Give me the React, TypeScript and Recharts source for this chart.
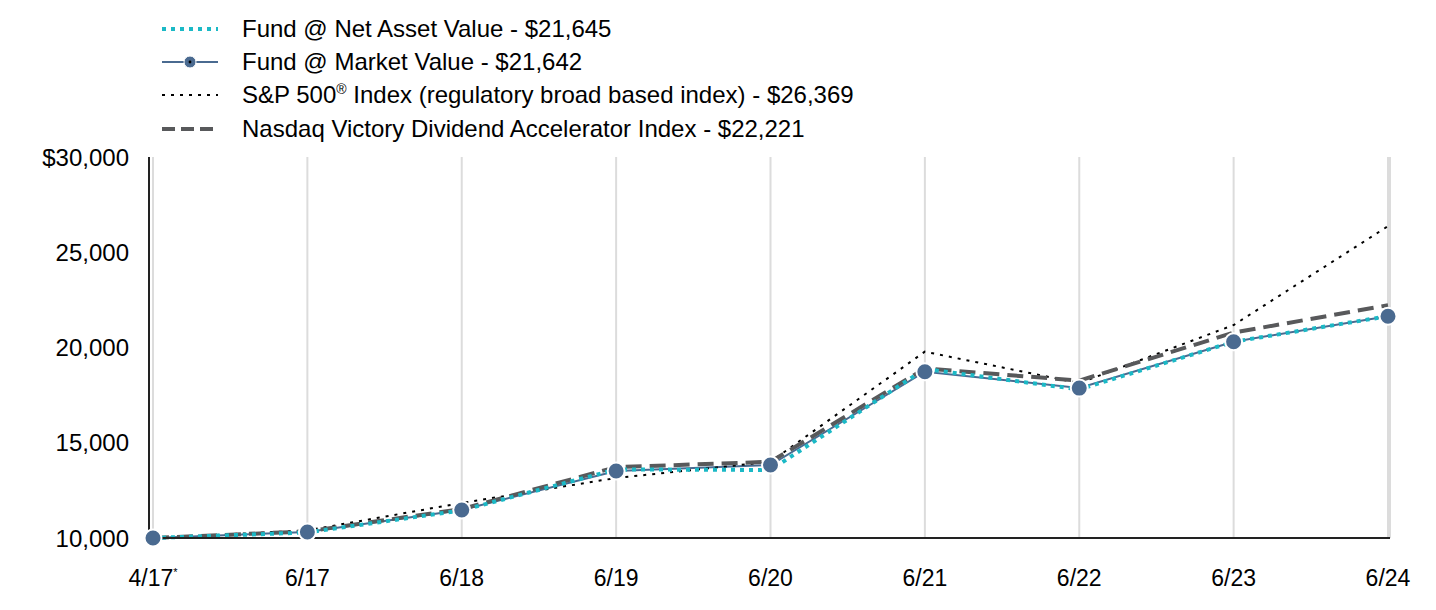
import { LineChart, Line, XAxis, YAxis, CartesianGrid, Legend } from "recharts"

const categories = ["4/17", "6/17", "6/18", "6/19", "6/20", "6/21", "6/22", "6/23", "6/24"]
const navValues = [10000, 10290, 11450, 13600, 13570, 18870, 17800, 20300, 21645]
const marketValues = [10000, 10315, 11470, 13520, 13830, 18730, 17870, 20305, 21642]
const sp500Values = [10000, 10400, 11840, 13150, 14000, 19780, 18130, 21180, 26369]
const nasdaqValues = [10000, 10350, 11520, 13720, 14000, 18900, 18260, 20780, 22221]
const yTicks = [10000, 15000, 20000, 25000, 30000]

const legendItems = [
  { key: "nav", label: "Fund @ Net Asset Value - $21,645" },
  { key: "market", label: "Fund @ Market Value - $21,642" },
  { key: "sp500", label: "S&P 500", sup: "®", rest: " Index (regulatory broad based index) - $26,369" },
  { key: "nasdaq", label: "Nasdaq Victory Dividend Accelerator Index - $22,221" },
]

const chartData = categories.map((c, i) => ({
  date: c,
  nav: navValues[i],
  market: marketValues[i],
  sp500: sp500Values[i],
  nasdaq: nasdaqValues[i],
}))

const FONT = "'Liberation Sans', Arial, sans-serif"
const NAV_COLOR = "#1bb9c6"
const MARKET_COLOR = "#4a6a90"
const NASDAQ_COLOR = "#58595b"

function LegendIcon({ kind }: { kind: string }) {
  return (
    <svg width={60} height={14} style={{ display: "block" }}>
      {kind === "nav" && (
        <line x1={2} y1={7} x2={58} y2={7} stroke={NAV_COLOR} strokeWidth={4} strokeDasharray="4 5" />
      )}
      {kind === "market" && (
        <g>
          <line x1={2} y1={7} x2={58} y2={7} stroke={MARKET_COLOR} strokeWidth={2} />
          <circle cx={30} cy={7} r={6} fill={MARKET_COLOR} stroke="#fff" strokeWidth={1} />
          <circle cx={30} cy={7} r={1.4} fill="#000" />
        </g>
      )}
      {kind === "sp500" && (
        <line x1={2} y1={7} x2={58} y2={7} stroke="#000" strokeWidth={2} strokeDasharray="3 6" />
      )}
      {kind === "nasdaq" && (
        <line x1={2} y1={7} x2={58} y2={7} stroke={NASDAQ_COLOR} strokeWidth={4} strokeDasharray="13 6" />
      )}
    </svg>
  )
}

function renderLegend() {
  return (
    <div style={{ fontFamily: FONT, fontSize: 24, color: "#000" }}>
      {legendItems.map((item) => (
        <div key={item.key} style={{ display: "flex", alignItems: "center", height: 33.4 }}>
          <LegendIcon kind={item.key} />
          <span style={{ marginLeft: 22, whiteSpace: "nowrap", lineHeight: "28px" }}>
            {item.label}
            {item.sup && <sup style={{ fontSize: 14, verticalAlign: "top", lineHeight: "16px" }}>{item.sup}</sup>}
            {item.rest}
          </span>
        </div>
      ))}
    </div>
  )
}

function XTick(props: any) {
  const { x, y, payload } = props
  const first = payload.value === "4/17"
  return (
    <text x={x} y={y} dy="0.71em" textAnchor="middle" fontFamily={FONT} fontSize={23} fill="#000">
      {payload.value}
      {first && (
        <tspan fontSize={11} dy="-0.9em">*</tspan>
      )}
    </text>
  )
}

const formatY = (v: number) => (v === 30000 ? "$30,000" : v.toLocaleString("en-US"))

export default function App() {
  return (
    <div style={{ position: "absolute", left: 0, top: 0, background: "#fff" }}>
      <LineChart
        width={1436}
        height={610}
        data={chartData}
        margin={{ top: 157, right: 46, left: 0, bottom: 12 }}
      >
        <CartesianGrid horizontal={false} stroke="#dcdcdc" strokeWidth={2} />
        <XAxis
          dataKey="date"
          padding={{ left: 4, right: 2 }}
          height={60}
          tickLine={false}
          tickMargin={26}
          axisLine={{ stroke: "#222", strokeWidth: 2 }}
          tick={<XTick />}
          interval={0}
        />
        <YAxis
          width={149}
          domain={[10000, 30000]}
          ticks={yTicks}
          tickLine={false}
          tickMargin={14}
          axisLine={{ stroke: "#222", strokeWidth: 2 }}
          tickFormatter={formatY}
          tick={{ fontFamily: FONT, fontSize: 24, fill: "#000" }}
        />
        <Legend
          content={renderLegend}
          layout="vertical"
          align="center"
          verticalAlign="middle"
          wrapperStyle={{ top: 12, left: 160, width: 800, height: 140 }}
        />
        <Line
          dataKey="market"
          stroke={MARKET_COLOR}
          strokeWidth={2}
          dot={false}
          isAnimationActive={false}
        />
        <Line
          dataKey="sp500"
          stroke="#000"
          strokeWidth={2}
          strokeDasharray="3 6"
          dot={false}
          isAnimationActive={false}
        />
        <Line
          dataKey="nasdaq"
          stroke={NASDAQ_COLOR}
          strokeWidth={4}
          strokeDasharray="16 8"
          dot={false}
          isAnimationActive={false}
        />
        <Line
          dataKey="nav"
          stroke={NAV_COLOR}
          strokeWidth={4}
          strokeDasharray="4 5"
          dot={false}
          isAnimationActive={false}
        />
        <Line
          dataKey="market"
          stroke="none"
          dot={{ r: 8.5, fill: MARKET_COLOR, stroke: "#fff", strokeWidth: 2 }}
          legendType="none"
          isAnimationActive={false}
        />
      </LineChart>
    </div>
  )
}
